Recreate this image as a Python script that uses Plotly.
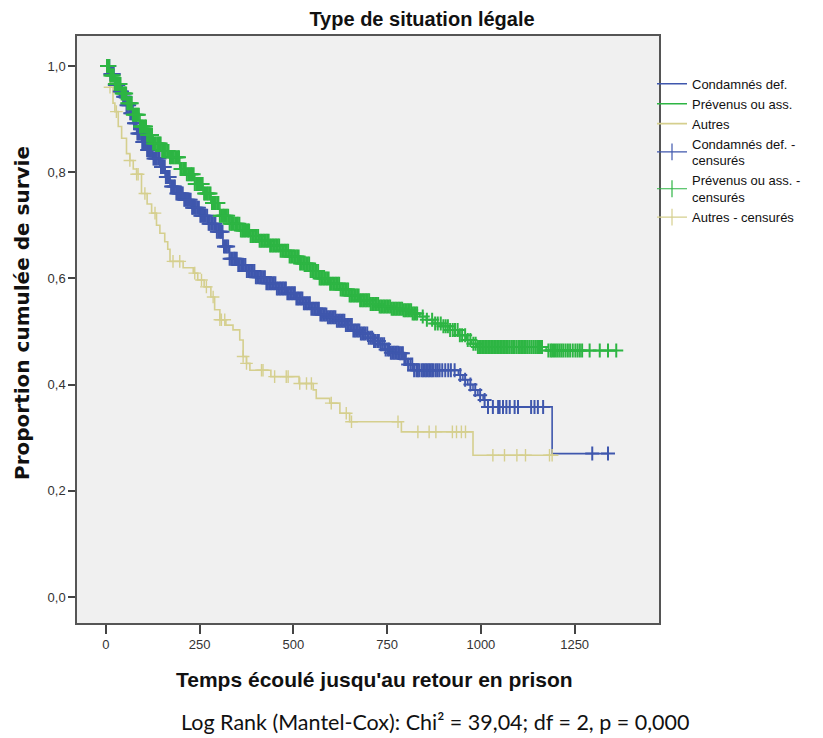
import plotly.graph_objects as go
import bisect

# ---- Data ----
# Kaplan-Meier step curves: event times (days) and cumulative survival
cond_t = [0, 12, 24, 35, 46, 55, 64, 73, 82, 95, 108, 125, 144, 158, 171, 188, 206, 228, 250, 272,
          295, 312, 330, 352, 375, 400, 428, 455, 482, 505, 526, 548, 570, 592, 615, 640, 660, 677,
          700, 715, 730, 745, 757, 784, 795, 805, 819, 940, 952, 965, 979, 992, 1006, 1019, 1190, 1339]
cond_s = [1.0, 0.985, 0.964, 0.952, 0.942, 0.926, 0.911, 0.892, 0.873, 0.857, 0.842, 0.826, 0.810,
          0.791, 0.773, 0.760, 0.748, 0.733, 0.718, 0.703, 0.688, 0.660, 0.637, 0.625, 0.614, 0.602,
          0.591, 0.581, 0.572, 0.562, 0.553, 0.543, 0.532, 0.527, 0.520, 0.512, 0.502, 0.496, 0.488,
          0.482, 0.476, 0.466, 0.460, 0.459, 0.448, 0.438, 0.427, 0.418, 0.409, 0.400, 0.390, 0.380,
          0.371, 0.358, 0.270, 0.270]

prev_t = [0, 12, 24, 40, 55, 72, 91, 108, 126, 150, 171, 197, 215, 237, 259, 280, 304, 330, 357, 385,
          410, 437, 464, 490, 517, 545, 570, 595, 624, 650, 677, 705, 730, 760, 792, 815, 837, 855,
          872, 895, 917, 940, 961, 975, 988, 1174, 1361]
prev_s = [1.0, 0.982, 0.966, 0.948, 0.930, 0.908, 0.886, 0.870, 0.854, 0.840, 0.828, 0.806, 0.796,
          0.778, 0.760, 0.742, 0.718, 0.703, 0.690, 0.680, 0.671, 0.662, 0.652, 0.641, 0.628, 0.614,
          0.600, 0.590, 0.579, 0.568, 0.559, 0.552, 0.547, 0.543, 0.540, 0.534, 0.528, 0.522, 0.515,
          0.510, 0.503, 0.493, 0.484, 0.477, 0.471, 0.464, 0.464]

autr_t = [0, 5, 11, 19, 24, 33, 42, 55, 64, 73, 82, 95, 110, 122, 135, 144, 157, 165, 171, 206, 233,
          245, 262, 280, 290, 304, 320, 339, 357, 366, 375, 384, 440, 515, 553, 561, 597, 624, 650,
          788, 979, 1190]
autr_s = [1.0, 0.983, 0.960, 0.930, 0.914, 0.886, 0.864, 0.835, 0.822, 0.806, 0.796, 0.760, 0.740,
          0.723, 0.700, 0.685, 0.669, 0.655, 0.632, 0.620, 0.610, 0.597, 0.584, 0.565, 0.541, 0.522,
          0.512, 0.503, 0.484, 0.453, 0.440, 0.427, 0.415, 0.402, 0.390, 0.374, 0.365, 0.346, 0.330,
          0.311, 0.267, 0.267]

# Censored observation times (days)
cond_c = [3, 6, 9, 12, 15, 18, 21, 24, 27, 30, 33, 37, 40, 43, 46, 49, 52, 55, 58, 62, 65, 68, 71, 75,
          78, 81, 84, 87, 90, 94, 97, 100, 103, 107, 110, 114, 117, 120, 123, 127, 130, 133, 136, 140,
          143, 147, 150, 154, 157, 160, 163, 167, 170, 174, 177, 181, 184, 188, 191, 195, 198, 202,
          205, 209, 212, 216, 219, 223, 226, 230, 233, 237, 240, 244, 248, 252, 255, 259, 262, 266,
          270, 274, 277, 281, 285, 289, 292, 296, 300, 304, 307, 311, 315, 319, 322, 326, 330, 334,
          338, 342, 345, 349, 353, 357, 361, 365, 368, 372, 376, 380, 384, 388, 392, 396, 400, 404,
          408, 412, 416, 420, 424, 428, 432, 436, 440, 444, 448, 452, 456, 460, 464, 468, 472, 476,
          480, 484, 488, 492, 496, 500, 504, 508, 512, 516, 520, 524, 528, 532, 536, 540, 544, 548,
          552, 556, 560, 564, 568, 572, 576, 580, 584, 588, 592, 596, 600, 604, 608, 612, 616, 620,
          624, 628, 632, 636, 640, 644, 648, 652, 656, 660, 664, 668, 672, 676, 680, 684, 688, 692,
          697, 701, 706, 710, 715, 719, 724, 728, 733, 737, 742, 746, 751, 755, 760, 764, 768, 772,
          776, 780, 784, 788, 792, 796, 800, 806, 812, 817, 822, 828, 832, 836, 842, 846, 850, 854,
          858, 862, 866, 870, 874, 880, 885, 890, 897, 905, 913, 920, 930, 945, 958, 972, 985, 998,
          1010, 1019, 1032, 1046, 1050, 1059, 1068, 1077, 1090, 1099, 1134, 1143, 1152, 1166, 1297, 1339]
prev_c = [3, 6, 9, 12, 15, 18, 21, 24, 27, 30, 33, 36, 39, 42, 45, 48, 51, 54, 57, 60, 63, 66, 69, 72,
          76, 79, 82, 85, 88, 91, 94, 97, 100, 104, 107, 110, 113, 117, 120, 123, 126, 130, 133, 137,
          140, 143, 146, 150, 153, 157, 160, 164, 167, 171, 174, 178, 181, 185, 188, 192, 195, 199,
          202, 206, 209, 213, 216, 220, 223, 227, 230, 234, 237, 241, 244, 248, 251, 255, 258, 262,
          265, 269, 272, 276, 279, 283, 286, 290, 293, 297, 300, 304, 308, 312, 315, 319, 322, 326,
          330, 334, 337, 341, 345, 349, 352, 356, 360, 364, 367, 371, 375, 379, 382, 386, 390, 394,
          398, 402, 406, 410, 414, 418, 422, 426, 430, 434, 438, 442, 446, 450, 454, 458, 462, 466,
          470, 474, 478, 482, 486, 490, 494, 498, 502, 506, 510, 514, 518, 522, 526, 530, 534, 538,
          542, 546, 550, 554, 558, 562, 566, 570, 574, 578, 582, 586, 590, 594, 598, 602, 606, 610,
          614, 618, 622, 626, 630, 634, 638, 642, 646, 650, 654, 658, 662, 666, 670, 674, 678, 682,
          686, 690, 694, 698, 702, 706, 710, 714, 718, 722, 726, 730, 734, 738, 742, 746, 750, 754,
          758, 762, 766, 770, 774, 778, 782, 786, 790, 794, 798, 802, 806, 810, 814, 818, 822, 826,
          830, 845, 856, 870, 878, 885, 893, 900, 906, 912, 918, 925, 931, 938, 944, 950, 958, 965,
          972, 980, 986, 992, 996, 1000, 1004, 1008, 1012, 1016, 1020, 1024, 1028, 1032, 1036, 1040,
          1044, 1048, 1052, 1056, 1060, 1064, 1068, 1072, 1077, 1082, 1086, 1090, 1095, 1100, 1104,
          1108, 1112, 1116, 1120, 1125, 1130, 1135, 1140, 1145, 1150, 1155, 1160, 1163, 1180, 1186,
          1190, 1195, 1200, 1205, 1210, 1215, 1220, 1226, 1232, 1238, 1245, 1252, 1258, 1264, 1270,
          1290, 1317, 1339, 1361]
autr_c = [11, 28, 64, 82, 86, 104, 131, 179, 197, 237, 255, 268, 286, 304, 308, 317, 366, 375, 415,
          419, 450, 481, 486, 517, 535, 548, 601, 641, 655, 779, 832, 862, 880, 924, 935, 948, 959,
          1032, 1063, 1096, 1119, 1183, 1190]

names = ["Condamnés def.", "Prévenus ou ass.", "Autres"]
cens_names = ["Condamnés def. -<br>censurés", "Prévenus ou ass. -<br>censurés", "Autres - censurés"]
colors = ["#3F57AD", "#2DB543", "#D5CF8E"]
mark_size = [10, 10, 9]
mark_width = [2.0, 2.0, 1.4]

x_ticks = [0, 250, 500, 750, 1000, 1250]
y_ticks = [0.0, 0.2, 0.4, 0.6, 0.8, 1.0]
y_tick_text = ["0,0", "0,2", "0,4", "0,6", "0,8", "1,0"]


def step_value(ts, ss, t):
    i = bisect.bisect_right(ts, t) - 1
    return ss[max(i, 0)]


curves = [(cond_t, cond_s, cond_c), (prev_t, prev_s, prev_c), (autr_t, autr_s, autr_c)]

fig = go.Figure()
for (ts, ss, _), name, col in zip(curves, names, colors):
    fig.add_trace(go.Scatter(x=ts, y=ss, mode="lines", line=dict(color=col, width=1.6, shape="hv"),
                             name=name))

# draw the yellow censored marks first so blue/green are on top
for k in [2, 0, 1]:
    ts, ss, cs = curves[k]
    col = colors[k]
    fig.add_trace(go.Scatter(x=cs, y=[step_value(ts, ss, c) for c in cs], mode="markers",
                             marker=dict(symbol="cross-thin", size=mark_size[k],
                                         line=dict(color=col, width=mark_width[k])),
                             showlegend=False, hoverinfo="skip"))

for name, col in zip(cens_names, colors):
    # legend entry: line with a vertical tick
    fig.add_trace(go.Scatter(x=[None], y=[None], mode="lines+markers", name=name,
                             line=dict(color=col, width=1.2),
                             marker=dict(symbol="line-ns", size=12, line=dict(color=col, width=1.2))))

fig.update_layout(
    width=823, height=738,
    paper_bgcolor="white", plot_bgcolor="#F0F0F0",
    margin=dict(l=77, r=164, t=36, b=115),
    font=dict(family="Liberation Sans, Arial, sans-serif", color="#222"),
    title=dict(text="<b>Type de situation légale</b>", x=422 / 823, xref="container", xanchor="center",
               y=1 - 19 / 738, yref="container", yanchor="middle",
               font=dict(size=20, color="#111")),
    showlegend=True,
    legend=dict(x=(652 - 77) / 582, xanchor="left", y=0.944, yanchor="top", bgcolor="rgba(0,0,0,0)",
                font=dict(size=13, color="#111"), tracegroupgap=0, itemwidth=30,
                traceorder="normal"),
    xaxis=dict(range=[-77, 1475], tickvals=x_ticks, ticks="outside", ticklen=9, tickwidth=1.5,
               tickcolor="#444", showgrid=False, zeroline=False, showline=True, mirror=True,
               linecolor="#555", linewidth=1.5, tickfont=dict(size=13, color="#333")),
    yaxis=dict(range=[-0.049, 1.0565], tickvals=y_ticks, ticktext=y_tick_text, ticks="outside",
               ticklen=7, tickwidth=1.5, tickcolor="#444", showgrid=False, zeroline=False,
               showline=True, mirror=True, linecolor="#555", linewidth=1.5,
               tickfont=dict(size=13, color="#333")),
    annotations=[
        dict(text="<b>Temps écoulé jusqu'au retour en prison</b>", xref="paper", yref="paper",
             x=(374 - 77) / 582, y=(623 - 679) / 587, xanchor="center", yanchor="middle",
             showarrow=False, font=dict(size=21, color="#111")),
        dict(text="<b>Proportion cumulée de survie</b>", xref="paper", yref="paper",
             x=(22 - 77) / 582, y=(623 - 313) / 587, xanchor="center", yanchor="middle",
             textangle=-90, showarrow=False,
             font=dict(size=20, color="#111", family="DejaVu Sans, sans-serif")),
        dict(text="Log Rank (Mantel-Cox): Chi² = 39,04; df = 2, p = 0,000", xref="paper", yref="paper",
             x=(435 - 77) / 582, y=(623 - 722) / 587, xanchor="center", yanchor="middle",
             showarrow=False, font=dict(size=21.5, color="#111", family="Lato, Open Sans, sans-serif")),
    ],
)

fig.write_html("out.html", post_script="document.body.style.margin='0';",
               config={"displayModeBar": False})
